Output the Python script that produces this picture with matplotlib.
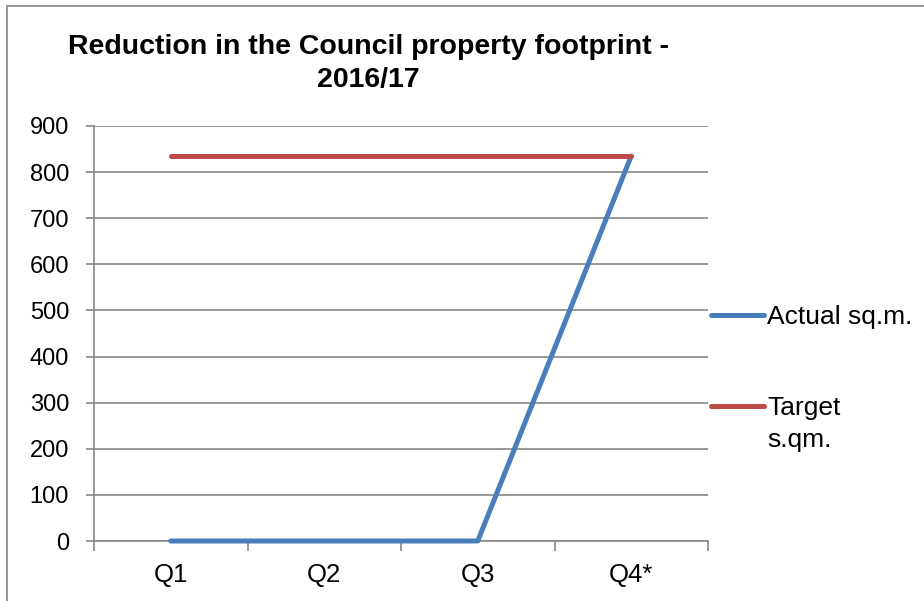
import matplotlib.pyplot as plt
from matplotlib.lines import Line2D
from matplotlib.patches import Rectangle

plt.rcParams['font.family'] = ['Liberation Sans', 'DejaVu Sans']

quarters = ["Q1", "Q2", "Q3", "Q4*"]
actual = [0, 0, 0, 835]
target = [835, 835, 835, 835]
series_names = ["Actual sq.m.", "Target\ns.qm."]

blue = "#4A7EBB"
red = "#BE4B48"
grid_col = "#868686"

fig = plt.figure(figsize=(9.24, 6.01), dpi=100)
ax = fig.add_axes([94/924, 1 - 541/601, (708 - 94)/924, (541 - 126)/601])

x = range(len(quarters))
ax.plot(x, actual, color=blue, lw=3.6, solid_capstyle='round', zorder=3, clip_on=False)
ax.plot(x, target, color=red, lw=3.6, solid_capstyle='round', zorder=3, clip_on=False)

ax.set_xlim(-0.5, len(quarters) - 0.5)
ax.set_ylim(0, 900)
ax.set_yticks(range(0, 901, 100))
ax.set_xticks(list(x))
ax.set_xticklabels(quarters)
ax.set_xticks([i - 0.5 for i in range(len(quarters) + 1)], minor=True)
ax.tick_params(axis='x', which='major', length=0, pad=16, labelsize=18.5)
ax.tick_params(axis='x', which='minor', length=7, color=grid_col, width=1.2)
ax.tick_params(axis='y', length=6, color=grid_col, width=1.2, labelsize=17, pad=12)
ax.yaxis.grid(True, color=grid_col, lw=1.2)
ax.set_axisbelow(True)
for s in ['top', 'right']:
    ax.spines[s].set_visible(False)
for s in ['left', 'bottom']:
    ax.spines[s].set_color(grid_col)
    ax.spines[s].set_linewidth(1.2)

fig.text(368/924, 1 - 54/601, "Reduction in the Council property footprint -",
         ha='center', va='baseline', fontsize=20.5, fontweight='bold')
fig.text(368/924, 1 - 87/601, "2016/17",
         ha='center', va='baseline', fontsize=20.5, fontweight='bold')

# legend drawn by hand so the handle sits beside the first text line
legend_y = [315, 406]
for name, col, yy in zip(series_names, [blue, red], legend_y):
    fig.add_artist(Line2D([711/924, 764/924], [1 - yy/601, 1 - yy/601],
                          color=col, lw=3.6, solid_capstyle='round'))
    fig.text(767/924, 1 - (yy + 9)/601, name.split("\n")[0], ha='left',
             va='baseline', fontsize=19)
    if "\n" in name:
        fig.text(767/924, 1 - (yy + 41)/601, name.split("\n")[1], ha='left',
                 va='baseline', fontsize=19)

# outer chart frame (cut off at right and bottom)
fig.add_artist(Rectangle((7/924, -0.1), 1.2, 1.1 - 6/601, transform=fig.transFigure,
                         fill=False, edgecolor='#8c8c8c', lw=1.3))

fig.savefig("out.png", dpi=100)
